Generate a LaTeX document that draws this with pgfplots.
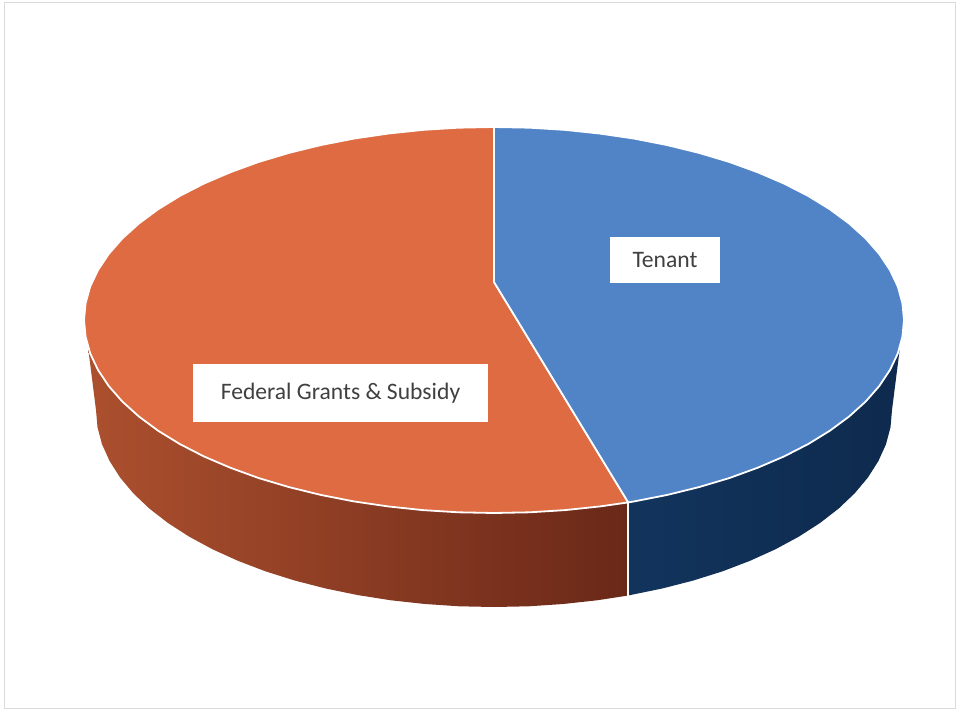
\documentclass[border=0pt]{standalone}
\usepackage{fontspec}
\setmainfont{Carlito}
\usepackage{pgfplots}
\pgfplotsset{compat=1.18}
\definecolor{orangeTop}{RGB}{222,107,66}
\definecolor{blueTop}{RGB}{80,132,198}
\definecolor{orangeWallL}{RGB}{172,80,46}
\definecolor{orangeWallR}{RGB}{106,40,24}
\definecolor{blueWallL}{RGB}{18,52,92}
\definecolor{blueWallR}{RGB}{14,42,78}
\definecolor{labeltext}{RGB}{64,64,64}
\begin{document}
% Shares: Tenant 44.7 %, Federal Grants & Subsidy 55.3 %
\begin{tikzpicture}
\begin{axis}[
  scale only axis, width=479bp, height=356bp,
  xmin=0, xmax=958, ymin=0, ymax=712, y dir=reverse,
  hide axis, clip=false,
]
% background and frame
\addplot[fill=white, draw=none] coordinates {(0,0) (958,0) (958,712) (0,712)} -- cycle;
\addplot[draw=black!14, line width=0.5bp] coordinates {(4,3) (955,3) (955,708) (4,708)} -- cycle;
% side walls
\addplot[draw=none, left color=orangeWallL, right color=orangeWallR] coordinates {
(88,347) (90.2,353.5) (98.0,369.9) (108.7,386.0) (122.4,401.6) (138.9,416.5) (158.1,430.7) (179.9,444.1) (204.1,456.5) (230.5,467.8) (258.8,478.1) (289.0,487.1) (320.7,494.9) (353.8,501.4) (387.9,506.4) (422.8,510.1) (458.2,512.3) (494,513) (529.8,512.3) (565.2,510.1) (600.1,506.4) (628.2,502.4) (628.2,595.5) (597.0,600.3) (563.1,604.0) (528.7,606.3) (494,607) (459.3,606.3) (424.9,604.0) (391.0,600.3) (357.9,595.1) (325.8,588.5) (295.0,580.6) (265.7,571.4) (238.2,560.9) (212.6,549.3) (189.1,536.6) (168.0,523.0) (149.3,508.5) (133.3,493.3) (120.0,477.4) (109.6,461.0) (102.0,444.2) (97.5,427.2) (96,410)} -- cycle;
\addplot[draw=none, left color=blueWallL, right color=blueWallR] coordinates {
(628.2,502.4) (634.2,501.4) (667.3,494.9) (699.0,487.1) (729.2,478.1) (757.5,467.8) (783.9,456.5) (808.1,444.1) (829.9,430.7) (849.1,416.5) (865.6,401.6) (879.3,386.0) (890.0,369.9) (897.8,353.5) (900,347) (892,410) (890.5,427.2) (886.0,444.2) (878.4,461.0) (868.0,477.4) (854.7,493.3) (838.7,508.5) (820.0,523.0) (798.9,536.6) (775.4,549.3) (749.8,560.9) (722.3,571.4) (693.0,580.6) (662.2,588.5) (630.1,595.1) (628.2,595.5)} -- cycle;
\addplot[draw=white, line width=0.9bp] coordinates {(628.2,502.4) (628.2,596)};
% top slices
\addplot[fill=orangeTop, draw=white, line width=0.9bp, line join=round] coordinates {
(494,282) (494,127) (458.2,127.7) (422.8,129.9) (387.9,133.6) (353.8,138.6) (320.7,145.1) (289.0,152.9) (258.8,161.9) (230.5,172.2) (204.1,183.5) (179.9,195.9) (158.1,209.3) (138.9,223.5) (122.4,238.4) (108.7,254.0) (98.0,270.1) (90.2,286.5) (85.6,303.2) (84,320) (85.6,336.8) (90.2,353.5) (98.0,369.9) (108.7,386.0) (122.4,401.6) (138.9,416.5) (158.1,430.7) (179.9,444.1) (204.1,456.5) (230.5,467.8) (258.8,478.1) (289.0,487.1) (320.7,494.9) (353.8,501.4) (387.9,506.4) (422.8,510.1) (458.2,512.3) (494,513) (529.8,512.3) (565.2,510.1) (600.1,506.4) (628.2,502.4)} -- cycle;
\addplot[fill=blueTop, draw=white, line width=0.9bp, line join=round] coordinates {
(494,282) (494,127) (529.8,127.7) (565.2,129.9) (600.1,133.6) (634.2,138.6) (667.3,145.1) (699.0,152.9) (729.2,161.9) (757.5,172.2) (783.9,183.5) (808.1,195.9) (829.9,209.3) (849.1,223.5) (865.6,238.4) (879.3,254.0) (890.0,270.1) (897.8,286.5) (902.4,303.2) (904,320) (902.4,336.8) (897.8,353.5) (890.0,369.9) (879.3,386.0) (865.6,401.6) (849.1,416.5) (829.9,430.7) (808.1,444.1) (783.9,456.5) (757.5,467.8) (729.2,478.1) (699.0,487.1) (667.3,494.9) (634.2,501.4) (628.2,502.4)} -- cycle;
% labels
\node[fill=white, draw=none, minimum width=55bp, minimum height=23bp, inner sep=0pt,
      font=\fontsize{11.8bp}{13bp}\selectfont, text=labeltext]
  at (axis cs:665,260) {Tenant};
\node[fill=white, draw=none, minimum width=147.5bp, minimum height=29bp, inner sep=0pt,
      font=\fontsize{11.8bp}{13bp}\selectfont, text=labeltext]
  at (axis cs:340.5,393) {Federal Grants \& Subsidy};
\end{axis}
\end{tikzpicture}
\end{document}
